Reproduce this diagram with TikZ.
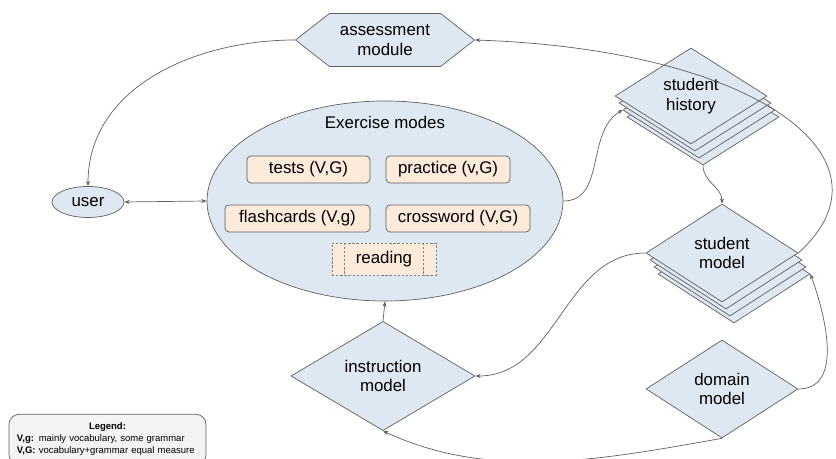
\documentclass[tikz,border=0pt]{standalone}
\usepackage{fontspec}
\setmainfont{Liberation Sans}
\usetikzlibrary{shapes.geometric, shapes.symbols, shadows, arrows.meta}
\definecolor{NodeBlue}{RGB}{222, 232, 243}
\definecolor{BoxPeach}{RGB}{252, 234, 218}
\definecolor{LineGrey}{RGB}{95, 95, 95}
\definecolor{LegendGrey}{RGB}{243, 243, 243}

\begin{document}
\begin{tikzpicture}[x=0.03cm, y=0.03cm,
    every node/.style={font=\fontsize{14.4}{17}\selectfont},
    bluefill/.style={fill=NodeBlue, draw=LineGrey, line width=0.6pt, inner sep=0pt},
    modshape/.style={diamond, bluefill, align=center},
    stacked/.style={
        copy shadow={shadow xshift=0.36cm, shadow yshift=-0.63cm, fill=NodeBlue, draw=LineGrey, line width=0.6pt},
        copy shadow={shadow xshift=0.24cm, shadow yshift=-0.42cm, fill=NodeBlue, draw=LineGrey, line width=0.6pt},
        copy shadow={shadow xshift=0.12cm, shadow yshift=-0.21cm, fill=NodeBlue, draw=LineGrey, line width=0.6pt}},
    modebox/.style={rectangle, rounded corners=0.12cm, fill=BoxPeach, draw=LineGrey, line width=0.6pt, minimum height=0.81cm, inner sep=0pt},
    conn/.style={draw=LineGrey, line width=0.6pt, >={Stealth[length=4.5pt, width=3.5pt]}, ->}]
    \useasboundingbox (0,0) rectangle (836,459);

    % Modulo de evaluacion y usuario
    \node[signal, signal to=west and east, signal pointer angle=76, bluefill, minimum width=5.37cm, minimum height=1.59cm, align=center] (assess) at (385,419) {assessment\\module};
    \node[ellipse, bluefill, minimum width=2.16cm, minimum height=0.93cm] (user) at (88,257) {user};

    % Modos de ejercicio
    \node[ellipse, bluefill, minimum width=10.68cm, minimum height=6cm] (ex) at (385,258) {};
    \node (extitle) at (385,337) {Exercise modes};
    \node[modebox, minimum width=3.69cm] (tests) at (308.5,289.5) {tests (V,G)};
    \node[modebox, minimum width=3.72cm] (practice) at (448,289.5) {practice (v,G)};
    \node[modebox, minimum width=4.35cm] (flash) at (297.5,240.5) {flashcards (V,g)};
    \node[modebox, minimum width=4.32cm] (cross) at (458,240.5) {crossword (V,G)};
    \node[modebox, rounded corners=0pt, draw=LineGrey!80, dash pattern=on 2pt off 1.5pt, minimum width=3.12cm, minimum height=0.96cm] (reading) at (384,200) {reading};
    \draw[LineGrey!80, line width=0.6pt, dash pattern=on 2pt off 1.5pt] ([xshift=0.39cm]reading.north west) -- ([xshift=0.39cm]reading.south west);
    \draw[LineGrey!80, line width=0.6pt, dash pattern=on 2pt off 1.5pt] ([xshift=-0.39cm]reading.north east) -- ([xshift=-0.39cm]reading.south east);

    % Modelos
    \node[modshape, stacked, minimum width=4.56cm, minimum height=2.88cm] (hist) at (691,363) {student\\history};
    \node[modshape, stacked, minimum width=4.56cm, minimum height=2.94cm] (smodel) at (722,206) {student\\model};
    \node[modshape, minimum width=5.52cm, minimum height=2.85cm] (instr) at (383,83) {instruction\\model};
    \node[modshape, minimum width=4.56cm, minimum height=2.94cm] (domain) at (722,70) {domain\\model};

    % Leyenda
    \node[draw=LineGrey, fill=LegendGrey, line width=0.6pt, rounded corners=0.3cm, text width=5.43cm, minimum height=1.5cm, inner xsep=0.24cm, inner ysep=0.15cm, anchor=north, align=left, font=\fontsize{8.1}{10.2}\selectfont] (legend) at (107.5,45)
        {{\centering\textbf{Legend:}\par}\textbf{V,g:} mainly vocabulary, some grammar\\\textbf{V,G:} vocabulary+grammar equal measure};

    % Conexiones
    \draw[conn] (assess.west) to[out=180, in=90] (user.north);
    \draw[conn, <->] (user.east) -- (ex.west);
    \draw[conn] (ex.east) to[out=0, in=210] ([shift={(8,-14)}]hist.west);
    \draw[conn] ([shift={(12,-21)}]hist.south) to[out=-90, in=90] (smodel.north);
    \draw[conn] (smodel.east) .. controls +(42:4.2cm) and +(-2:8.5cm) .. (assess.east);
    \draw[conn] (smodel.west) to[out=180, in=0] (instr.east);
    \draw[conn] (instr.north) -- (ex.south);
    \draw[conn] (domain.south) to[out=190, in=-25, looseness=0.9] (instr.south);
    \draw[conn] (domain.east) to[out=0, in=-70] ([shift={(12,-21)}]smodel.east);
\end{tikzpicture}
\end{document}
